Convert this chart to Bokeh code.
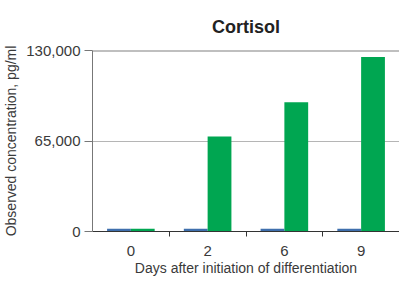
import numpy as np
from bokeh.plotting import figure
from bokeh.models import (Range1d, LinearAxis, FixedTicker,
                          NumeralTickFormatter, ColumnDataSource, Span)
from bokeh.transform import dodge
from bokeh.embed import file_html
from bokeh.resources import INLINE

days = ["0", "2", "6", "9"]
control = [2000, 2000, 2000, 2000]
differentiated = [2000, 68300, 92800, 125300]
y_ticks = [0, 65000, 130000]

FONT = "Liberation Sans"
TXT = "#3a3a3a"

pos = (np.arange(len(days)) + 0.5).tolist()
seps = list(range(1, len(days)))
src = ColumnDataSource(dict(pos=pos, day=days, control=control, diff=differentiated))

p = figure(width=399, height=278, x_range=Range1d(0, len(days)), y_range=Range1d(0, 130000),
           output_backend="svg", toolbar_location=None, x_axis_location=None,
           min_border_left=87, min_border_right=0, min_border_top=50, min_border_bottom=0,
           title="Cortisol")
p.outline_line_color = None
p.title.align = "center"
p.title.text_font = FONT
p.title.text_font_size = "18px"
p.title.text_font_style = "bold"
p.title.text_color = "#222"
p.title.standoff = 27

sep_axis = LinearAxis(ticker=FixedTicker(ticks=seps),
                      major_label_overrides={s: "" for s in seps},
                      major_label_text_font_size="1px", major_tick_out=5, major_tick_in=0,
                      minor_tick_line_color=None, axis_line_color="#333",
                      major_tick_line_color="#333", major_label_standoff=0)
p.add_layout(sep_axis, "below")
lab_axis = LinearAxis(ticker=FixedTicker(ticks=pos),
                      major_label_overrides={x: d for x, d in zip(pos, days)},
                      axis_line_color=None, major_tick_line_color=None, minor_tick_line_color=None,
                      major_label_text_font=FONT, major_label_text_font_size="15px",
                      major_label_text_color=TXT, major_label_standoff=3,
                      axis_label="Days after initiation of differentiation",
                      axis_label_text_font=FONT, axis_label_text_font_size="14px",
                      axis_label_text_font_style="normal", axis_label_text_color=TXT,
                      axis_label_standoff=1)
p.add_layout(lab_axis, "below")

ya = p.yaxis[0]
ya.ticker = FixedTicker(ticks=y_ticks)
ya.formatter = NumeralTickFormatter(format="0,0")
ya.minor_tick_line_color = None
ya.major_tick_out = 8
ya.major_tick_in = 0
ya.major_tick_line_color = "#777"
ya.axis_line_color = "#777"
ya.major_label_text_font = FONT
ya.major_label_text_font_size = "15px"
ya.major_label_text_color = TXT
ya.major_label_standoff = 4
ya.axis_label = "Observed concentration, pg/ml"
ya.axis_label_text_font = FONT
ya.axis_label_text_font_size = "14px"
ya.axis_label_text_font_style = "normal"
ya.axis_label_text_color = TXT
ya.axis_label_standoff = 4

p.xgrid.grid_line_color = None
p.ygrid.ticker = FixedTicker(ticks=y_ticks[1:2])
p.ygrid.grid_line_color = "#b5b5b5"
p.add_layout(Span(location=y_ticks[-1], dimension="width", line_color="#808080", line_width=2))

p.vbar(x=dodge("pos", -0.155), width=0.31, top="control", source=src,
       color="#3f6fad", line_color=None)
p.vbar(x=dodge("pos", 0.155), width=0.31, top="diff", source=src,
       color="#00a651", line_color=None)

open("out.html", "w").write(file_html(p, INLINE))
